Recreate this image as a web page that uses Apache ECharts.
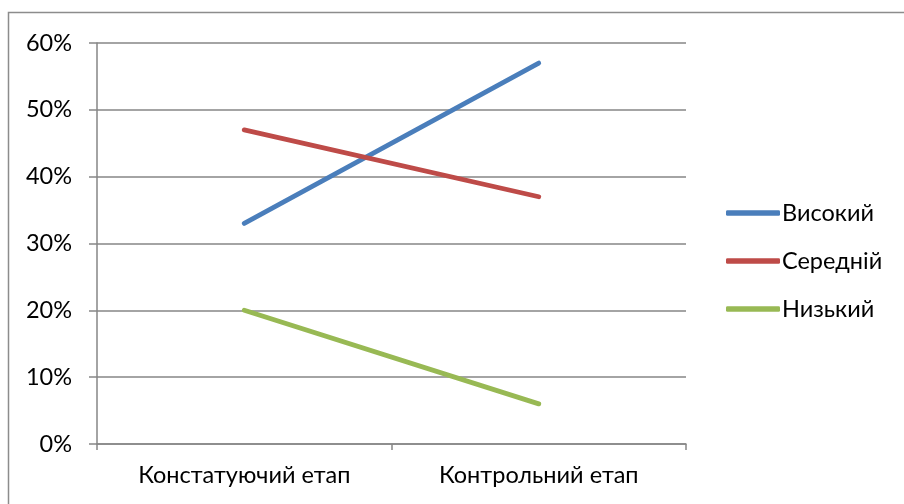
<!DOCTYPE html>
<html>
<head>
<meta charset="utf-8">
<script src="https://cdn.jsdelivr.net/npm/echarts@6/dist/echarts.min.js"></script>
<style>html,body{margin:0;padding:0;background:#fff}#c{width:904px;height:504px}</style>
</head>
<body>
<div id="c"></div>
<script>
var categories = ["Констатуючий етап", "Контрольний етап"];
var seriesNames = ["Високий", "Середній", "Низький"];
var vysokyi = [0.33, 0.57];
var serednii = [0.47, 0.37];
var nyzkyi = [0.20, 0.06];
var colors = ["#4A7EBB", "#BE4B48", "#98B954"];
var FONT = "Lato, 'Open Sans', sans-serif";

var chart = echarts.init(document.getElementById('c'), null, {renderer: 'canvas'});
var data = [vysokyi, serednii, nyzkyi];
chart.setOption({
  animation: false,
  backgroundColor: '#fff',
  graphic: [{
    type: 'rect', shape: {x: 8.5, y: 12.5, width: 1000, height: 1000},
    style: {fill: 'none', stroke: '#8c8c8c', lineWidth: 1.5}, silent: true, z: -1
  }],
  grid: {left: 97, right: 218, top: 43, bottom: 60},
  xAxis: {
    type: 'category', data: categories, boundaryGap: true,
    axisLine: {lineStyle: {color: '#868686', width: 1.5}},
    axisTick: {show: true, length: 6, inside: false, lineStyle: {color: '#868686', width: 1.5}},
    axisLabel: {margin: 19, color: '#000', fontSize: 23.5, fontFamily: FONT},
    splitLine: {show: false}
  },
  yAxis: {
    type: 'value', min: 0, max: 0.6, interval: 0.1,
    axisLine: {show: true, lineStyle: {color: '#868686', width: 1.5}},
    axisTick: {show: true, length: 8, lineStyle: {color: '#868686', width: 1.5}},
    axisLabel: {margin: 25, color: '#000', fontSize: 23.5, fontFamily: FONT,
      formatter: function (v) { return Math.round(v * 100) + '%'; }},
    splitLine: {show: true, lineStyle: {color: '#868686', width: 1.5}}
  },
  legend: {
    orient: 'vertical', left: 721, top: 196,
    icon: 'roundRect', itemWidth: 54, itemHeight: 5.5, itemGap: 24,
    textStyle: {color: '#000', fontSize: 23.5, fontFamily: FONT, lineHeight: 24, padding: [0, 0, 0, -3]},
    data: seriesNames
  },
  series: seriesNames.map(function (n, i) {
    return {
      name: n, type: 'line', data: data[i], symbol: 'none',
      lineStyle: {width: 4.8, color: colors[i], cap: 'round'},
      itemStyle: {color: colors[i]}
    };
  })
});
</script>
</body>
</html>
